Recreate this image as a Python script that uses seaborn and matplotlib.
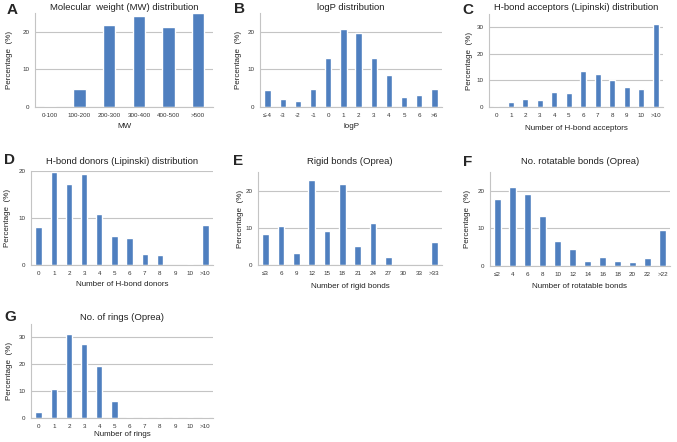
import matplotlib
matplotlib.use("Agg")
import matplotlib.pyplot as plt
import seaborn as sns

# ---- data (percentages) ----
mw_cats = ["0-100", "100-200", "200-300", "300-400", "400-500", ">500"]
mw_vals = [0.2, 4.9, 21.9, 24.2, 21.2, 25.0]

logp_cats = ["\u2264-4", "-3", "-2", "-1", "0", "1", "2", "3", "4", "5", "6", ">6"]
logp_vals = [4.6, 2.0, 1.6, 4.7, 13.1, 20.8, 19.8, 13.0, 8.5, 2.7, 3.3, 4.9]

hba_cats = ["0", "1", "2", "3", "4", "5", "6", "7", "8", "9", "10", ">10"]
hba_vals = [0.4, 1.9, 3.0, 2.6, 5.7, 5.2, 13.5, 12.6, 10.0, 7.4, 6.7, 31.1]

hbd_cats = ["0", "1", "2", "3", "4", "5", "6", "7", "8", "9", "10", ">10"]
hbd_vals = [8.0, 19.7, 17.2, 19.3, 10.9, 6.2, 5.7, 2.3, 2.1, 0.0, 0.2, 8.6]

rigid_cats = ["\u22643", "6", "9", "12", "15", "18", "21", "24", "27", "30", "33", ">33"]
rigid_vals = [8.3, 10.4, 3.1, 22.8, 9.2, 21.7, 5.2, 11.3, 2.1, 0.0, 0.0, 6.3]

rot_cats = ["\u22642", "4", "6", "8", "10", "12", "14", "16", "18", "20", "22", ">22"]
rot_vals = [17.8, 20.9, 19.1, 13.3, 6.6, 4.6, 1.25, 2.3, 1.4, 1.1, 2.2, 9.5]

ring_cats = ["0", "1", "2", "3", "4", "5", "6", "7", "8", "9", "10", ">10"]
ring_vals = [2.1, 10.9, 31.4, 27.6, 19.5, 6.5, 0.4, 0.4, 0.3, 0.3, 0.4, 0.4]

W, H = 677, 442
BLUE = "#4f7fbf"
GRID = "#c4c4c4"

sns.set_theme(style="white")
plt.rcParams["font.family"] = ["Liberation Sans", "DejaVu Sans"]

fig = plt.figure(figsize=(W / 100, H / 100), dpi=100)


def rect(x0, y0, x1, y1):
    return [x0 / W, 1 - y1 / H, (x1 - x0) / W, (y1 - y0) / H]


def ftext(x, y, s, **kw):
    fig.text(x / W, 1 - y / H, s, **kw)


panels = [
    # letter, title, xlabel, cats, vals, ymax, yticks, axes box, letter pos, title y, xlabel y, ylabel x
    ("A", "Molecular  weight (MW) distribution", "MW", mw_cats, mw_vals, 25, [0, 10, 20],
     (35, 13, 213, 107), (7, 10), 7, 127, 10),
    ("B", "logP distribution", "logP", logp_cats, logp_vals, 25, [0, 10, 20],
     (260, 13, 442, 107), (234, 9), 8, 127, 239),
    ("C", "H-bond acceptors (Lipinski) distribution", "Number of H-bond acceptors", hba_cats, hba_vals,
     35, [0, 10, 20, 30], (489, 14, 663, 107), (462, 10), 8, 128, 469),
    ("D", "H-bond donors (Lipinski) distribution", "Number of H-bond donors", hbd_cats, hbd_vals,
     20, [0, 10, 20], (31, 171, 213, 265), (4, 160), 161, 285, 8),
    ("E", "Rigid bonds (Oprea)", "Number of rigid bonds", rigid_cats, rigid_vals, 25, [0, 10, 20],
     (258, 172, 442, 265), (233, 161), 162, 287, 240),
    ("F", "No. rotatable bonds (Oprea)", "Number of rotatable bonds", rot_cats, rot_vals, 25, [0, 10, 20],
     (490, 172, 670, 266), (463, 162), 162, 287, 468),
    ("G", "No. of rings (Oprea)", "Number of rings", ring_cats, ring_vals, 35, [0, 10, 20, 30],
     (31, 324, 213, 418), (4, 317), 318, 434, 10),
]

for (letter, title, xlabel, cats, vals, ymax, yticks, box, lpos, ty, xly, ylx) in panels:
    ax = fig.add_axes(rect(*box))
    sns.barplot(x=cats, y=vals, color=BLUE, width=0.42, saturation=1, ax=ax)
    for p in ax.patches:
        p.set_zorder(3)
    ax.set_ylim(0, ymax)
    ax.set_xlim(-0.5, len(cats) - 0.5)
    ax.set_yticks(yticks)
    ax.set_yticklabels([str(t) for t in yticks])
    ax.tick_params(axis="both", length=0, labelsize=4.5, pad=4, colors="#333333")
    ax.set_xlabel("")
    ax.set_ylabel("")
    ax.yaxis.grid(True, color=GRID, linewidth=0.8, zorder=0)
    ax.set_axisbelow(True)
    for side in ["top", "right"]:
        ax.spines[side].set_visible(False)
    for side in ["left", "bottom"]:
        ax.spines[side].set_color(GRID)
        ax.spines[side].set_linewidth(0.8)
        ax.spines[side].set_zorder(4)

    cx = (box[0] + box[2]) / 2
    ftext(lpos[0], lpos[1], letter, fontsize=11, fontweight="bold", ha="left", va="center")
    ftext(cx, ty, title, fontsize=6.8, ha="center", va="center", color="#222222")
    ftext(cx, xly, xlabel, fontsize=5.8, ha="center", va="center", color="#222222")
    ftext(ylx, (box[1] + box[3]) / 2, "Percentage  (%)", fontsize=5.8, rotation=90,
          ha="center", va="center", color="#222222")

fig.savefig("out.png", dpi=100)
